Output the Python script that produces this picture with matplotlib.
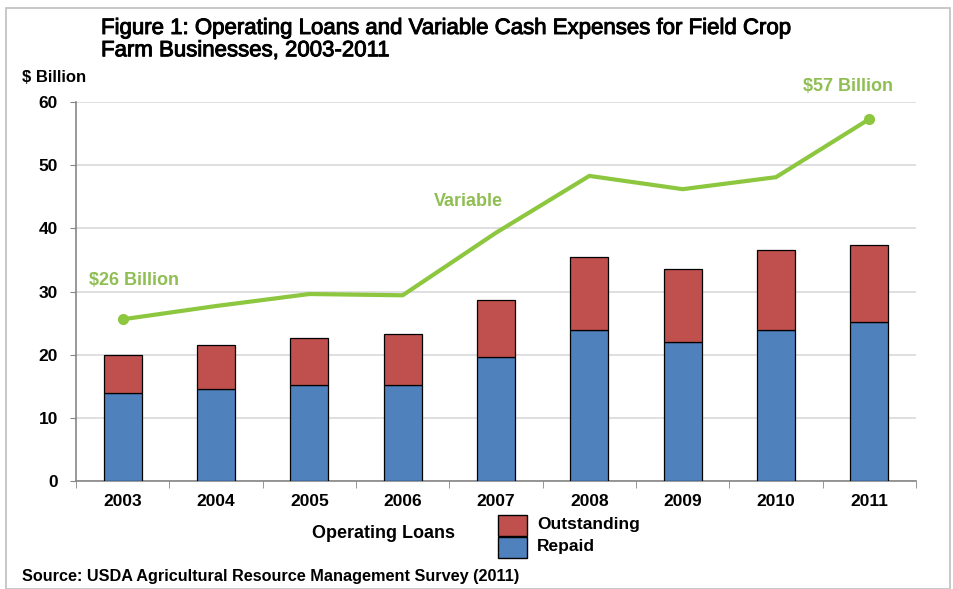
import matplotlib
matplotlib.use("Agg")
import matplotlib.pyplot as plt
from matplotlib.patches import Rectangle
import matplotlib.patheffects as pe
import numpy as np

years = ["2003", "2004", "2005", "2006", "2007", "2008", "2009", "2010", "2011"]
repaid = [13.9, 14.6, 15.2, 15.2, 19.6, 23.9, 22.0, 23.9, 25.2]
total_loans = [19.9, 21.5, 22.6, 23.3, 28.6, 35.5, 33.6, 36.6, 37.4]
outstanding = [t - r for t, r in zip(total_loans, repaid)]
variable = [25.6, 27.7, 29.6, 29.4, 39.3, 48.3, 46.2, 48.1, 57.3]
yticks = [0, 10, 20, 30, 40, 50, 60]

BLUE = "#4F81BD"
RED = "#C0504D"
GREEN = "#8DC63F"
GTEXT = "#8FBE52"
FONT = "Liberation Sans"

W, H = 954, 589
fig = plt.figure(figsize=(W / 100, H / 100), dpi=100)
fig.patch.set_facecolor("white")
fig.patches.append(Rectangle((6 / W, 0.0), (W - 10) / W, 1 - 8 / H, transform=fig.transFigure,
                             fill=False, edgecolor="#BFBFBF", linewidth=1.2))

ax = fig.add_axes([76 / W, 1 - 481 / H, (916 - 76) / W, (481 - 102) / H])
x = np.arange(len(years))
ax.bar(x, repaid, width=0.41, color=BLUE, edgecolor="black", linewidth=0.9, zorder=3)
ax.bar(x, outstanding, bottom=repaid, width=0.41, color=RED, edgecolor="black", linewidth=0.9, zorder=3)
ax.plot(x, variable, color=GREEN, linewidth=3, marker="o", markersize=7,
        markevery=[0, len(years) - 1], zorder=4, solid_capstyle="round")

ax.set_xlim(-0.5, len(years) - 0.5)
ax.set_ylim(0, 60)
ax.set_yticks(yticks)
ax.set_yticklabels([str(v) for v in yticks], fontsize=12.5, fontweight="bold", family=FONT)
ax.set_xticks(x)
ax.set_xticklabels(years, fontsize=12.5, fontweight="bold", family=FONT)
ax.set_xticks(np.arange(-0.5, len(years)), minor=True)
ax.tick_params(axis="x", which="major", length=0, pad=9)
ax.tick_params(axis="x", which="minor", length=5, color="#868686", direction="out")
ax.tick_params(axis="y", length=4.5, color="#868686", direction="out", pad=8.5)
ax.grid(axis="y", color="#D9D9D9", linewidth=1.2, zorder=0)
ax.set_axisbelow(True)
for s in ["top", "right"]:
    ax.spines[s].set_visible(False)
for s in ["left", "bottom"]:
    ax.spines[s].set_color("#868686")
    ax.spines[s].set_linewidth(1.2)

ax.text(-0.36, 31.8, "$26 Billion", color=GTEXT, fontsize=13, fontweight="bold",
        va="center", ha="left", family=FONT)
ax.text(3.70, 44.3, "Variable", color=GTEXT, fontsize=13, fontweight="bold",
        va="center", ha="center", family=FONT)
ax.text(7.77, 62.5, "$57 Billion", color=GTEXT, fontsize=13, fontweight="bold",
        va="center", ha="center", family=FONT, clip_on=False)

fig.text(101 / W, 1 - 18 / H, "Figure 1: Operating Loans and Variable Cash Expenses for Field Crop\nFarm Businesses, 2003-2011",
         fontsize=16, fontweight="normal", va="top", ha="left", linespacing=1.08,
         family=["Liberation Sans Narrow", FONT],
         path_effects=[pe.withStroke(linewidth=0.7, foreground="black")])
fig.text(22 / W, 1 - 77 / H, "$ Billion", fontsize=12, fontweight="bold", va="center", ha="left",
         family=["Liberation Sans Narrow", FONT])
fig.text(22 / W, 1 - 577 / H, "Source: USDA Agricultural Resource Management Survey (2011)", fontsize=11.7,
         fontweight="bold", va="center", ha="left", family=FONT)
fig.text(384 / W, 1 - 533 / H, "Operating Loans", fontsize=13, fontweight="bold", va="center", ha="center",
         family=FONT)
fig.patches.append(Rectangle((498 / W, 1 - 536 / H), 29 / W, 21 / H, transform=fig.transFigure,
                             facecolor=RED, edgecolor="black", linewidth=1.0))
fig.patches.append(Rectangle((498 / W, 1 - 558 / H), 29 / W, 21 / H, transform=fig.transFigure,
                             facecolor=BLUE, edgecolor="black", linewidth=1.0))
fig.text(537 / W, 1 - 525 / H, "Outstanding", fontsize=12.5, fontweight="bold", va="center", ha="left",
         family=FONT)
fig.text(537 / W, 1 - 546 / H, "Repaid", fontsize=12.5, fontweight="bold", va="center", ha="left",
         family=FONT)

fig.savefig("out.png", dpi=100)
